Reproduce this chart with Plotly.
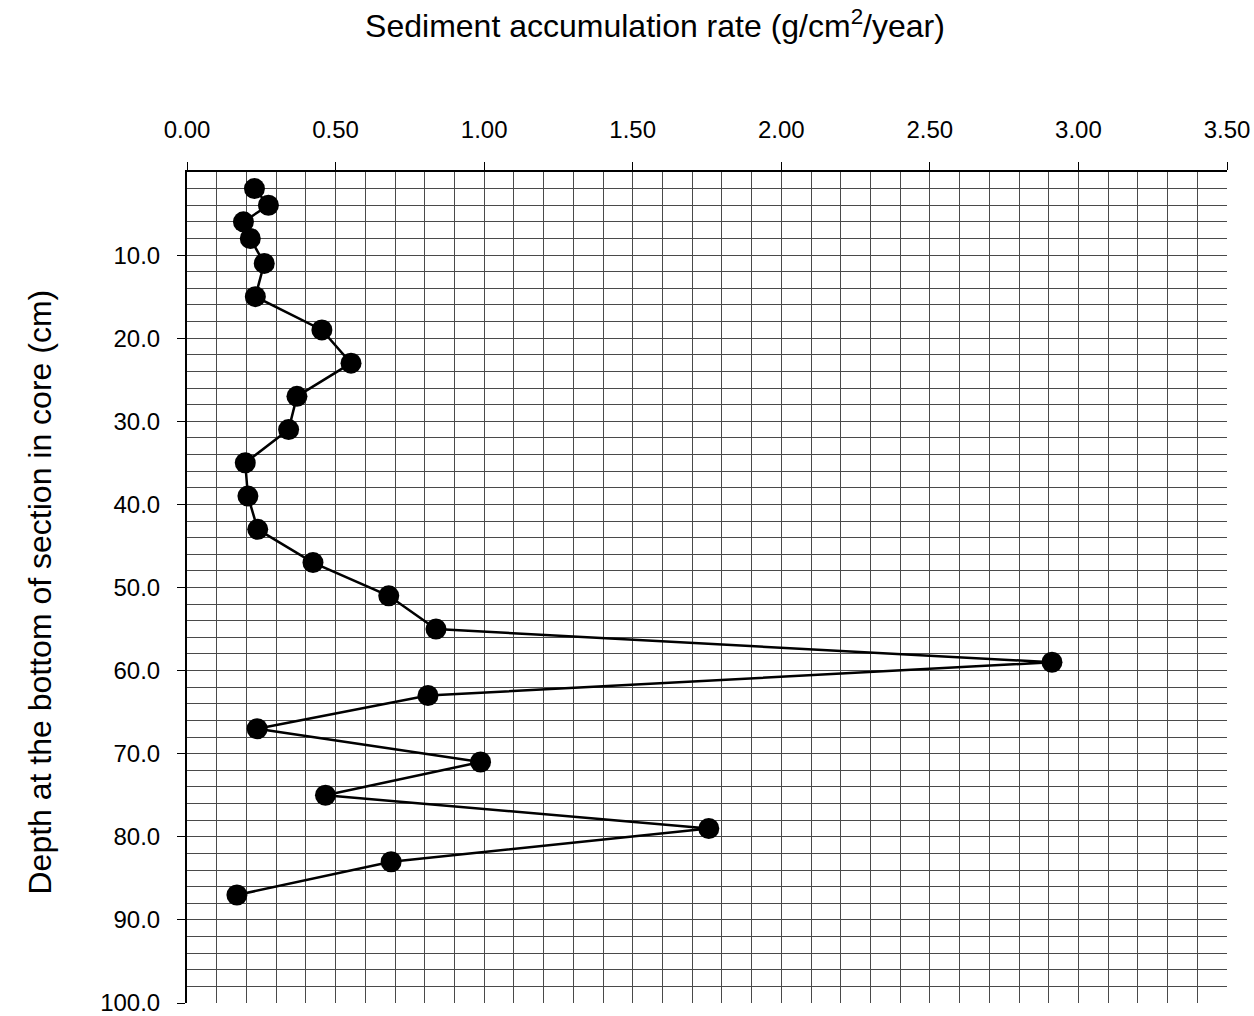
import plotly.graph_objects as go

# Depth at the bottom of each core section (cm) and its sediment accumulation rate
depth_cm = [2, 4, 6, 8, 11, 15, 19, 23, 27, 31, 35, 39, 43, 47, 51, 55,
            59, 63, 67, 71, 75, 79, 83, 87]
rate_g_cm2_yr = [0.227, 0.274, 0.190, 0.213, 0.260, 0.230, 0.454, 0.552,
                 0.370, 0.342, 0.196, 0.205, 0.238, 0.424, 0.679, 0.838,
                 2.911, 0.811, 0.236, 0.988, 0.466, 1.756, 0.687, 0.168]

x_ticks = [0.0, 0.5, 1.0, 1.5, 2.0, 2.5, 3.0, 3.5]
y_ticks = [10, 20, 30, 40, 50, 60, 70, 80, 90, 100]
y_tick_text = [f"{v:.1f}" for v in y_ticks]

FONT = "Liberation Sans, Arial, sans-serif"
GRID = "#4a4a4a"

W, H = 1254, 1016
L, R, T, B = 187, 27, 172, 13

fig = go.Figure()
fig.add_trace(go.Scatter(
    x=rate_g_cm2_yr, y=depth_cm,
    mode="lines+markers",
    line=dict(color="black", width=2.5),
    marker=dict(color="black", size=21),
    showlegend=False,
))

fig.update_layout(
    width=W, height=H,
    margin=dict(l=L, r=R, t=T, b=B),
    paper_bgcolor="white", plot_bgcolor="white",
    font=dict(family=FONT, size=24, color="black"),
    title=dict(
        text="Sediment accumulation rate (g/cm<sup>2</sup>/year)",
        x=655 / W, xanchor="center",
        y=1 - 26 / H, yanchor="middle",
        font=dict(family=FONT, size=32, color="black"),
    ),
    annotations=[dict(
        text="Depth at the bottom of section in core (cm)",
        xref="paper", yref="paper",
        x=(40 - L) / (W - L - R), y=0.494,
        xanchor="center", yanchor="middle",
        textangle=-90, showarrow=False,
        font=dict(family=FONT, size=32, color="black"),
    )],
)

fig.update_xaxes(
    side="top", range=[0, 3.5], automargin=False,
    tickvals=x_ticks, tickformat=".2f",
    ticks="outside", ticklen=8, tickcolor="black", tickwidth=1,
    ticklabelstandoff=14, ticklabeloverflow="allow",
    showline=True, linecolor="black", linewidth=2,
    showgrid=True, gridcolor=GRID, gridwidth=1,
    minor=dict(dtick=0.1, tick0=0, showgrid=True, gridcolor=GRID, gridwidth=1, ticks=""),
    zeroline=False,
    tickfont=dict(size=24),
)

fig.update_yaxes(
    range=[100, 0], automargin=False,
    tickvals=y_ticks, ticktext=y_tick_text,
    ticks="outside", ticklen=8, tickcolor="black", tickwidth=1,
    ticklabelstandoff=12, ticklabeloverflow="allow",
    showline=True, linecolor="black", linewidth=2,
    showgrid=True, gridcolor=GRID, gridwidth=1,
    minor=dict(dtick=2, tick0=0, showgrid=True, gridcolor=GRID, gridwidth=1, ticks=""),
    zeroline=False,
    tickfont=dict(size=24),
)

fig.write_html("out.html")
